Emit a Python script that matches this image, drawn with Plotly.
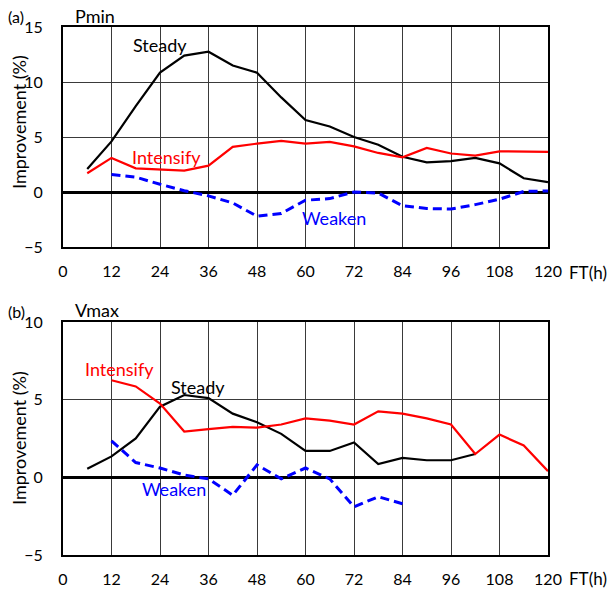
import plotly.graph_objects as go
from plotly.subplots import make_subplots

# ---- data ----
ft_a_steady = [6, 12, 18, 24, 30, 36, 42, 48, 54, 60, 66, 72, 78, 84, 90, 96, 102, 108, 114, 120]
pmin_steady = [2.1, 4.6, 7.8, 10.85, 12.4, 12.75, 11.5, 10.85, 8.6, 6.55, 5.95, 5.0, 4.3, 3.2, 2.7, 2.8, 3.1, 2.6, 1.25, 0.9]
ft_a_intens = [6, 12, 18, 24, 30, 36, 42, 48, 54, 60, 66, 72, 78, 84, 90, 96, 102, 108, 114, 120]
pmin_intens = [1.7, 3.1, 2.15, 2.05, 1.95, 2.4, 4.1, 4.4, 4.65, 4.4, 4.55, 4.15, 3.55, 3.15, 4.0, 3.5, 3.3, 3.7, 3.7, 3.65]
ft_a_weak = [12, 18, 24, 30, 36, 42, 48, 54, 60, 66, 72, 78, 84, 90, 96, 102, 108, 114, 120]
pmin_weak = [1.6, 1.35, 0.7, 0.12, -0.35, -1.0, -2.2, -1.95, -0.75, -0.6, 0.0, -0.1, -1.25, -1.5, -1.55, -1.15, -0.65, 0.05, 0.1]

ft_b_steady = [6, 12, 18, 24, 30, 36, 42, 48, 54, 60, 66, 72, 78, 84, 90, 96, 102]
vmax_steady = [0.55, 1.35, 2.5, 4.55, 5.3, 5.1, 4.1, 3.55, 2.8, 1.7, 1.7, 2.25, 0.85, 1.25, 1.1, 1.1, 1.5]
ft_b_intens = [12, 18, 24, 30, 36, 42, 48, 54, 60, 66, 72, 78, 84, 90, 96, 102, 108, 114, 120]
vmax_intens = [6.25, 5.85, 4.75, 2.95, 3.1, 3.25, 3.2, 3.4, 3.8, 3.65, 3.4, 4.25, 4.1, 3.8, 3.4, 1.5, 2.75, 2.05, 0.4]
ft_b_weak = [12, 18, 24, 30, 36, 42, 48, 54, 60, 66, 72, 78, 84]
vmax_weak = [2.35, 0.95, 0.6, 0.15, -0.1, -1.15, 0.8, -0.1, 0.6, -0.1, -1.9, -1.25, -1.7]

x_ticks = list(range(0, 121, 12))

FONT = "Lato"
W, H = 607, 590
ml, mr, mt, mb = 63, 59, 27, 35
pw, ph = W - ml - mr, H - mt - mb
def px(xp): return (xp - ml) / pw
def py(yp): return (H - mb - yp) / ph

fig = make_subplots(rows=2, cols=1)

def add(x, y, color, row, dash="solid", width=2.2):
    fig.add_trace(go.Scatter(x=x, y=y, mode="lines", line=dict(color=color, width=width, dash=dash),
                             showlegend=False), row=row, col=1)

add(ft_a_steady, pmin_steady, "black", 1)
add(ft_a_intens, pmin_intens, "#ff0000", 1)
add(ft_a_weak, pmin_weak, "#0000ff", 1, dash="9px,5px", width=3)
add(ft_b_steady, vmax_steady, "black", 2)
add(ft_b_intens, vmax_intens, "#ff0000", 2)
add(ft_b_weak, vmax_weak, "#0000ff", 2, dash="9px,5px", width=3)

axis_common = dict(showline=True, linecolor="black", linewidth=2, mirror=True,
                   showgrid=True, gridcolor="#3a3a3a", gridwidth=1,
                   ticks="outside", tickcolor="rgba(0,0,0,0)",
                   tickfont=dict(family=FONT, size=16, color="black"))
for r in (1, 2):
    fig.update_xaxes(range=[0, 120], tickvals=x_ticks, zeroline=False, ticklen=9, **axis_common, row=r, col=1)
    fig.update_yaxes(dtick=5, zeroline=True, zerolinecolor="black", zerolinewidth=3, ticklen=15,
                     **axis_common, row=r, col=1)
fig.update_yaxes(range=[-5, 15], domain=[py(247), 1], row=1, col=1)
fig.update_yaxes(range=[-5, 10], domain=[0, py(322)], row=2, col=1)

ann = []
def t(text, x, y, color, xref, yref, size=18, xanchor="center"):
    ann.append(dict(text=text, x=x, y=y, xref=xref, yref=yref, showarrow=False,
                    font=dict(family=FONT, size=size, color=color), xanchor=xanchor))

t("Steady", 24, 13.4, "black", "x", "y")
t("Intensify", 25.5, 3.2, "#ff0000", "x", "y")
t("Weaken", 67, -2.4, "#0000ff", "x", "y")
t("Intensify", 14, 7.0, "#ff0000", "x2", "y2")
t("Steady", 33.5, 5.8, "black", "x2", "y2")
t("Weaken", 27.5, -0.75, "#0000ff", "x2", "y2")

fig.update_layout(annotations=ann)
for text, xp, yp, size in [("(a)", 6, 17, 16), ("Pmin", 73, 16, 18), ("(b)", 6, 311, 16), ("Vmax", 73, 310, 18),
                           ("FT(h)", 567, 272, 17), ("FT(h)", 567, 578, 17)]:
    fig.add_annotation(text=text, x=px(xp), y=py(yp), xref="paper", yref="paper", showarrow=False,
                       xanchor="left", yanchor="middle", font=dict(family=FONT, size=size, color="black"))
# y-axis titles
for yp in (122, 438):
    fig.add_annotation(text="Improvement (%)", x=px(19), y=py(yp), xref="paper", yref="paper",
                       showarrow=False, textangle=-90, xanchor="center", yanchor="middle",
                       font=dict(family=FONT, size=18, color="black"))

fig.update_layout(width=W, height=H, margin=dict(l=ml, r=mr, t=mt, b=mb, autoexpand=False),
                  plot_bgcolor="white", paper_bgcolor="white")
fig.write_html("out.html", post_script="document.body.style.margin='0px';",
               config={"displayModeBar": False})
